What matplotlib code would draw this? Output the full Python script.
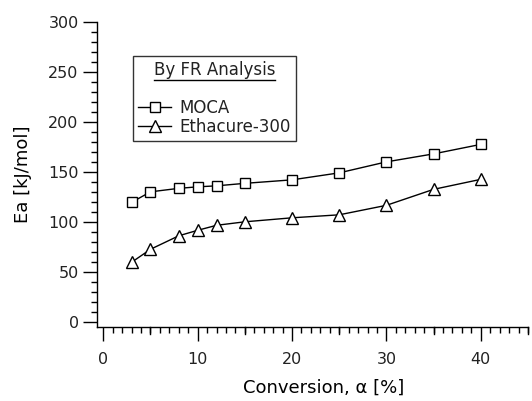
import matplotlib.pyplot as plt
from matplotlib.ticker import MultipleLocator
from matplotlib.lines import Line2D

plt.rcParams['font.family'] = ['DejaVu Sans']
plt.rcParams['text.color'] = '#222222'
plt.rcParams['xtick.labelcolor'] = '#222222'
plt.rcParams['ytick.labelcolor'] = '#222222'

# conversion [%]
conv = [3, 5, 8, 10, 12, 15, 20, 25, 30, 35, 40]
# activation energy [kJ/mol]
ea_moca = [119.5, 130, 133.5, 135, 136, 138.5, 142, 149, 160, 168, 177.5]
ea_etha = [59.5, 72.5, 86, 91.5, 96.5, 100, 104, 107, 116.5, 132.5, 142.5]

fig = plt.figure(figsize=(5.32, 4.01), dpi=100)
ax = fig.add_axes([96.7 / 532, 1 - 326.7 / 401, (528 - 96.7) / 532, (326.7 - 22) / 401])

l1, = ax.plot(conv, ea_moca, '-s', color='black', lw=1, ms=7.5,
              mfc='white', mec='black', mew=1, label='MOCA')
l2, = ax.plot(conv, ea_etha, '-^', color='black', lw=1, ms=9,
              mfc='white', mec='black', mew=1, label='Ethacure-300')

ax.set_xlim(-0.7, 45)
ax.set_ylim(-5, 300)

for s in ['top', 'right']:
    ax.spines[s].set_visible(False)
ax.spines['left'].set_linewidth(1)
ax.spines['bottom'].set_linewidth(1)

ax.xaxis.set_major_locator(MultipleLocator(10))
ax.xaxis.set_minor_locator(MultipleLocator(1))
ax.yaxis.set_major_locator(MultipleLocator(50))
ax.yaxis.set_minor_locator(MultipleLocator(10))
ax.tick_params(which='major', length=10, width=1, labelsize=11.5, color='black')
ax.tick_params(which='minor', length=4, width=1, color='black')
ax.tick_params(axis='x', which='major', pad=8)
ax.tick_params(axis='y', which='major', pad=3)

# medium ticks at 5, 15, 25 ...
for xm in [5, 15, 25, 35, 45]:
    t = Line2D([xm, xm], [0, -7 / 304.7], color='black', lw=1,
               transform=ax.get_xaxis_transform(), clip_on=False)
    ax.add_line(t)

ax.set_xlabel('Conversion, α [%]', fontsize=13, va='top')
ax.xaxis.set_label_coords(0.527, -0.172)
ax.set_ylabel('Ea [kJ/mol]', fontsize=13, va='center')
ax.yaxis.set_label_coords(-0.171, 0.5)

blank = Line2D([], [], color='none')
leg = ax.legend([blank, l1, l2], [' ', 'MOCA', 'Ethacure-300'],
                title='By FR Analysis', loc='upper left',
                bbox_to_anchor=(0.084, 0.888), borderaxespad=0,
                fancybox=False, frameon=True, edgecolor='black',
                fontsize=12, title_fontsize=12, handlelength=2.0,
                handletextpad=0.5, labelspacing=0.05, borderpad=0.3)
leg.get_frame().set_linewidth(1)

fig.canvas.draw()
bb = leg.get_title().get_window_extent().transformed(fig.transFigure.inverted())
fig.add_artist(Line2D([bb.x0, bb.x1], [bb.y0 - 0.002, bb.y0 - 0.002],
                      color='black', lw=1, transform=fig.transFigure))

fig.savefig('out.png', dpi=100)
